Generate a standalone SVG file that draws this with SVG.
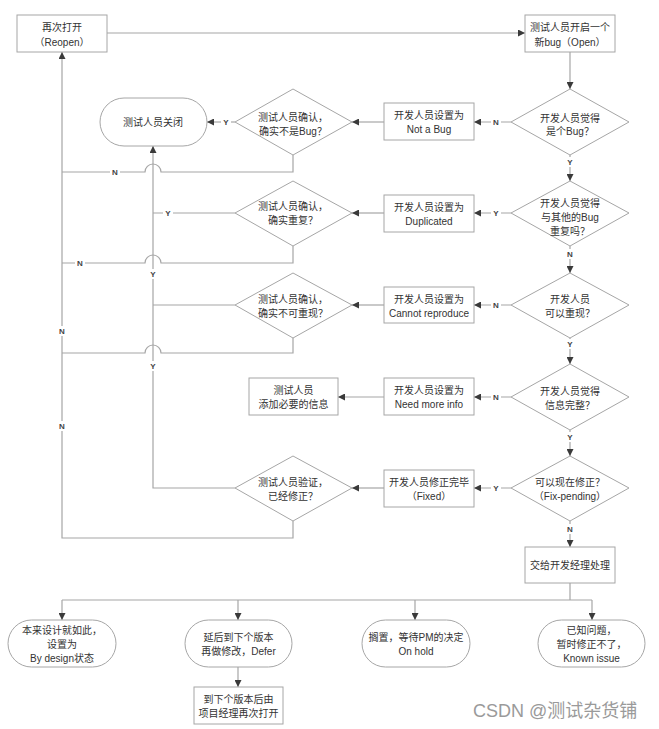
<svg xmlns="http://www.w3.org/2000/svg" width="659" height="729" viewBox="0 0 659 729">
<style>
.bx{fill:#fff;stroke:#a6a6a6;stroke-width:1}
.ln{fill:none;stroke:#a6a6a6;stroke-width:1.2}
.ar{marker-end:url(#ah)}
text{font-family:"Liberation Sans","Noto Sans CJK SC",sans-serif;font-size:10px;fill:#333;text-anchor:middle}
.lb{font-size:8px;font-weight:bold;fill:#444}
.lbg{fill:#fff}
.wm{font-size:18px;fill:#9a9a9a;text-anchor:start}
</style>
<defs>
<marker id="ah" viewBox="0 0 10 10" refX="10" refY="5" markerWidth="8" markerHeight="7" orient="auto" markerUnits="userSpaceOnUse"><path d="M0,0 L10,5 L0,10 z" fill="#3a3a3a"/></marker>
</defs>
<rect width="659" height="729" fill="#fff"/>
<g id="connectors">
<path class="ln ar" d="M107 33 H525"/>
<path class="ln ar" d="M570 52 V89"/>
<path class="ln ar" d="M511 122 H474"/>
<path class="ln ar" d="M384 122 H352"/>
<path class="ln ar" d="M235 122 H207"/>
<path class="ln" d="M293 155 V172 H161 A8 8 0 0 0 145 172 H62"/>
<path class="ln ar" d="M570 155 V181"/>
<path class="ln ar" d="M511 213 H474"/>
<path class="ln ar" d="M384 213 H352"/>
<path class="ln" d="M235 213 H153"/>
<path class="ln" d="M293 246 V263 H161 A8 8 0 0 0 145 263 H62"/>
<path class="ln ar" d="M570 246 V273"/>
<path class="ln ar" d="M511 305 H474"/>
<path class="ln ar" d="M384 305 H352"/>
<path class="ln" d="M235 305 H153"/>
<path class="ln" d="M293 338 V353 H161 A8 8 0 0 0 145 353 H62"/>
<path class="ln ar" d="M570 338 V364"/>
<path class="ln ar" d="M511 397 H474"/>
<path class="ln ar" d="M384 397 H338"/>
<path class="ln ar" d="M570 430 V456"/>
<path class="ln ar" d="M511 488 H474"/>
<path class="ln ar" d="M384 488 H352"/>
<path class="ln ar" d="M235 488 H153 V146"/>
<path class="ln ar" d="M293 521 V538 H62 V52"/>
<path class="ln ar" d="M570 521 V547"/>
<path class="ln" d="M570 583 V600 M62 600 H592"/>
<path class="ln ar" d="M62 600 V620"/>
<path class="ln ar" d="M238 600 V620"/>
<path class="ln ar" d="M415 600 V620"/>
<path class="ln ar" d="M592 600 V620"/>
<path class="ln ar" d="M238 667 V687"/>
<g id="labels">
<rect class="lbg" x="491" y="117" width="10" height="10"/><text class="lb" x="496" y="125">N</text>
<rect class="lbg" x="221" y="117" width="10" height="10"/><text class="lb" x="226" y="125">Y</text>
<rect class="lbg" x="110" y="167" width="10" height="10"/><text class="lb" x="115" y="175">N</text>
<rect class="lbg" x="565" y="157" width="10" height="10"/><text class="lb" x="570" y="165">Y</text>
<rect class="lbg" x="491" y="208" width="10" height="10"/><text class="lb" x="496" y="216">Y</text>
<rect class="lbg" x="163" y="208" width="10" height="10"/><text class="lb" x="168" y="216">Y</text>
<rect class="lbg" x="75" y="258" width="10" height="10"/><text class="lb" x="80" y="266">N</text>
<rect class="lbg" x="565" y="249" width="10" height="10"/><text class="lb" x="570" y="257">N</text>
<rect class="lbg" x="148" y="269" width="10" height="10"/><text class="lb" x="153" y="277">Y</text>
<rect class="lbg" x="491" y="300" width="10" height="10"/><text class="lb" x="496" y="308">N</text>
<rect class="lbg" x="57" y="326" width="10" height="10"/><text class="lb" x="62" y="334">N</text>
<rect class="lbg" x="565" y="339" width="10" height="10"/><text class="lb" x="570" y="347">Y</text>
<rect class="lbg" x="148" y="361" width="10" height="10"/><text class="lb" x="153" y="369">Y</text>
<rect class="lbg" x="491" y="392" width="10" height="10"/><text class="lb" x="496" y="400">N</text>
<rect class="lbg" x="57" y="421" width="10" height="10"/><text class="lb" x="62" y="429">N</text>
<rect class="lbg" x="565" y="432" width="10" height="10"/><text class="lb" x="570" y="440">Y</text>
<rect class="lbg" x="491" y="483" width="10" height="10"/><text class="lb" x="496" y="491">Y</text>
<rect class="lbg" x="565" y="524" width="10" height="10"/><text class="lb" x="570" y="532">N</text>
</g>
</g>
<g id="reopen"><rect class="bx" x="17" y="15" width="90" height="37"/><text x="62" y="30.5">再次打开</text><text x="62" y="45.5">（Reopen）</text></g>
<g id="open"><rect class="bx" x="525" y="15" width="90" height="37"/><text x="570" y="30.5">测试人员开启一个</text><text x="570" y="45.5">新bug（Open）</text></g>
<g id="d1"><polygon class="bx" points="570,89 629,122 570,155 511,122"/><text x="570" y="121.5">开发人员觉得</text><text x="570" y="135">是个Bug？</text></g>
<g id="b1"><rect class="bx" x="384" y="103" width="90" height="37"/><text x="429" y="118.5">开发人员设置为</text><text x="429" y="133">Not a Bug</text></g>
<g id="t1"><polygon class="bx" points="293,89 352,122 293,155 235,122"/><text x="293" y="120.5">测试人员确认，</text><text x="293" y="134.5">确实不是Bug？</text></g>
<g id="close"><rect class="bx" x="100" y="98" width="107" height="48" rx="24"/><text x="153" y="125.5">测试人员关闭</text></g>
<g id="d2"><polygon class="bx" points="570,181 629,213 570,246 511,213"/><text x="570" y="206.5">开发人员觉得</text><text x="570" y="220.5">与其他的Bug</text><text x="570" y="234.5">重复吗？</text></g>
<g id="b2"><rect class="bx" x="384" y="195" width="90" height="37"/><text x="429" y="210.5">开发人员设置为</text><text x="429" y="224.5">Duplicated</text></g>
<g id="t2"><polygon class="bx" points="293,181 352,213 293,246 235,213"/><text x="293" y="209.5">测试人员确认，</text><text x="293" y="223.5">确实重复？</text></g>
<g id="d3"><polygon class="bx" points="570,273 629,305 570,338 511,305"/><text x="570" y="302.5">开发人员</text><text x="570" y="316.5">可以重现？</text></g>
<g id="b3"><rect class="bx" x="384" y="287" width="90" height="36"/><text x="429" y="302.5">开发人员设置为</text><text x="429" y="316.5">Cannot reproduce</text></g>
<g id="t3"><polygon class="bx" points="293,273 352,305 293,338 235,305"/><text x="293" y="302.5">测试人员确认，</text><text x="293" y="316.5">确实不可重现？</text></g>
<g id="d4"><polygon class="bx" points="570,364 629,397 570,430 511,397"/><text x="570" y="395">开发人员觉得</text><text x="570" y="409">信息完整？</text></g>
<g id="b4"><rect class="bx" x="384" y="378" width="90" height="37"/><text x="429" y="393.5">开发人员设置为</text><text x="429" y="407.5">Need more info</text></g>
<g id="info"><rect class="bx" x="249" y="378" width="89" height="37"/><text x="293.5" y="393.5">测试人员</text><text x="293.5" y="407.5">添加必要的信息</text></g>
<g id="d5"><polygon class="bx" points="570,456 629,488 570,521 511,488"/><text x="570" y="485.5">可以现在修正？</text><text x="570" y="499.5">（Fix-pending）</text></g>
<g id="b5"><rect class="bx" x="384" y="470" width="90" height="37"/><text x="429" y="485.5">开发人员修正完毕</text><text x="429" y="499.5">（Fixed）</text></g>
<g id="t5"><polygon class="bx" points="293,456 352,488 293,521 235,488"/><text x="293" y="485.5">测试人员验证，</text><text x="293" y="499.5">已经修正？</text></g>
<g id="mgr"><rect class="bx" x="525" y="547" width="90" height="36"/><text x="570" y="568.5">交给开发经理处理</text></g>
<g id="p1"><rect class="bx" x="8" y="620" width="108" height="47" rx="23.5"/><text x="62" y="633.5">本来设计就如此，</text><text x="62" y="648">设置为</text><text x="62" y="662">By design状态</text></g>
<g id="p2"><rect class="bx" x="185" y="620" width="107" height="47" rx="23.5"/><text x="238.5" y="640.5">延后到下个版本</text><text x="238.5" y="654.5">再做修改，Defer</text></g>
<g id="p3"><rect class="bx" x="362" y="620" width="108" height="47" rx="23.5"/><text x="416" y="641">搁置，等待PM的决定</text><text x="416" y="654.5">On hold</text></g>
<g id="p4"><rect class="bx" x="538" y="620" width="107" height="47" rx="23.5"/><text x="591.5" y="634">已知问题，</text><text x="591.5" y="648">暂时修正不了，</text><text x="591.5" y="662">Known issue</text></g>
<g id="nextver"><rect class="bx" x="194" y="687" width="89" height="37"/><text x="238.5" y="703">到下个版本后由</text><text x="238.5" y="717">项目经理再次打开</text></g>
<text class="wm" x="473" y="717">CSDN @测试杂货铺</text>
</svg>
